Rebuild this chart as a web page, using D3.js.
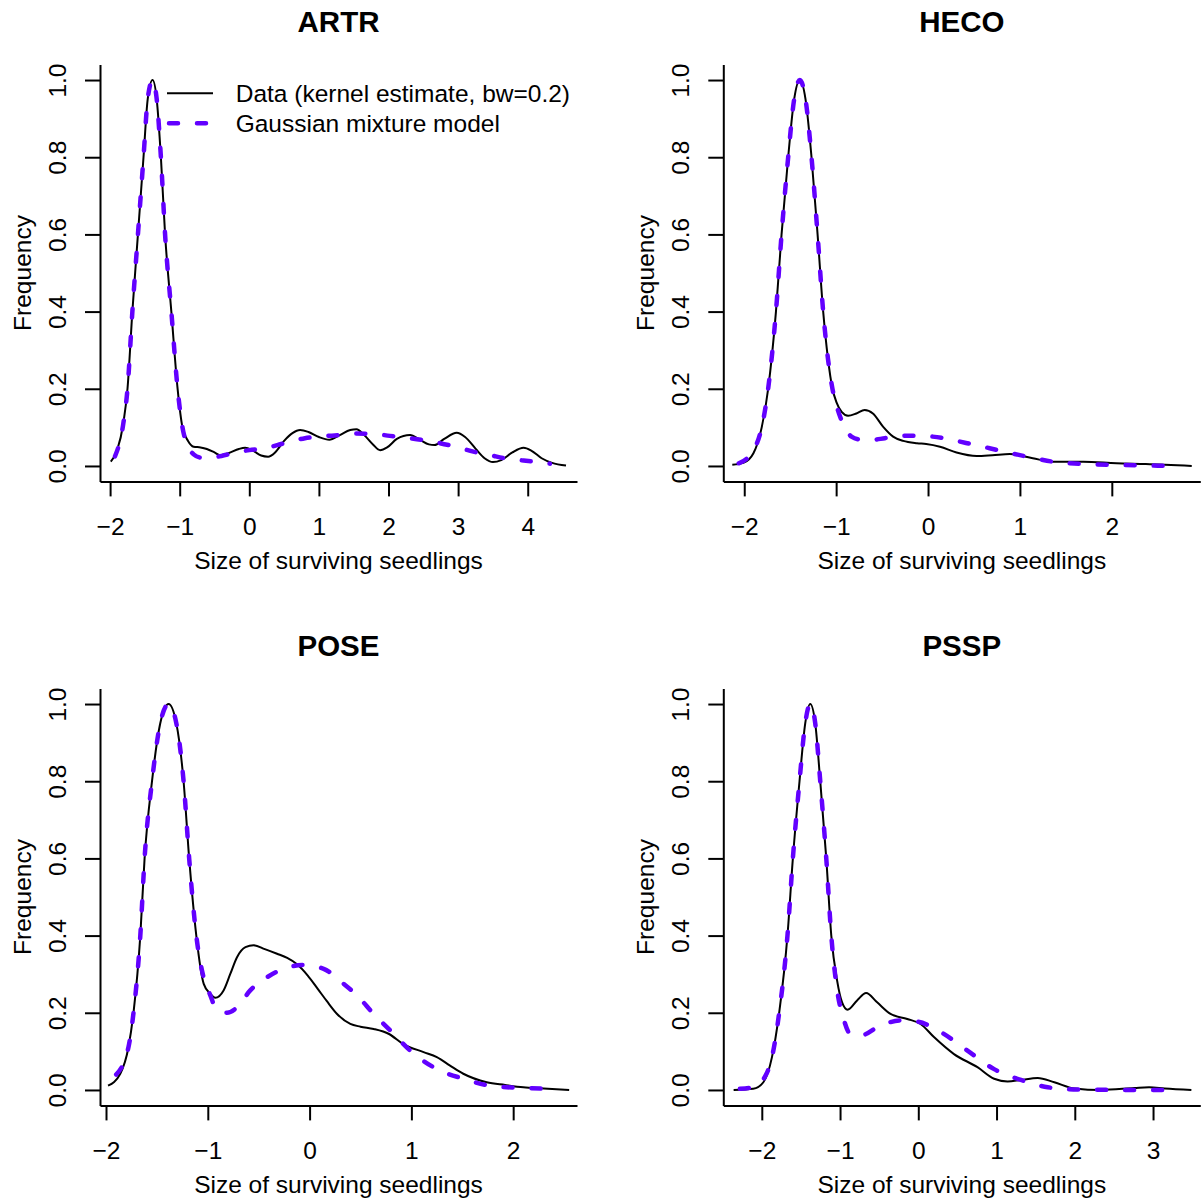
<!DOCTYPE html>
<html>
<head>
<meta charset="utf-8">
<script src="https://cdn.jsdelivr.net/npm/d3@7"></script>
<style>
  body { margin: 0; background: #fff; }
  text { font-family: "Liberation Sans", Arial, Helvetica, sans-serif; }
</style>
</head>
<body>
<script>
// ---- data ----
const panelNames = ["ARTR", "HECO", "POSE", "PSSP"];

const artrKdeX = [-1.99,-1.90,-1.81,-1.75,-1.68,-1.60,-1.52,-1.46,-1.39,-1.33,-1.27,-1.21,-1.12,-1.03,-0.96,-0.88,-0.80,-0.70,-0.61,-0.50,-0.42,-0.30,-0.15,-0.06,0.05,0.17,0.27,0.37,0.50,0.62,0.73,0.85,1.00,1.15,1.30,1.45,1.54,1.65,1.78,1.88,1.98,2.12,2.31,2.45,2.58,2.66,2.80,2.98,3.10,3.25,3.38,3.50,3.62,3.78,3.94,4.05,4.20,4.35,4.55];
const artrKdeY = [0.011,0.04,0.11,0.20,0.40,0.60,0.80,0.95,1.00,0.95,0.80,0.60,0.40,0.20,0.10,0.065,0.05,0.048,0.044,0.035,0.028,0.033,0.044,0.047,0.04,0.027,0.024,0.035,0.065,0.085,0.093,0.088,0.075,0.068,0.08,0.093,0.095,0.08,0.055,0.041,0.048,0.07,0.08,0.068,0.056,0.054,0.07,0.086,0.075,0.045,0.02,0.01,0.015,0.035,0.047,0.04,0.02,0.008,0.001];
const artrGmmX = [-1.93,-1.81,-1.75,-1.68,-1.60,-1.52,-1.46,-1.39,-1.33,-1.27,-1.21,-1.12,-1.03,-0.96,-0.88,-0.80,-0.70,-0.55,-0.40,-0.20,0.00,0.20,0.40,0.60,0.80,1.06,1.30,1.54,1.78,2.02,2.26,2.50,2.74,2.98,3.22,3.46,3.70,3.94,4.10,4.32];
const artrGmmY = [0.025,0.11,0.20,0.40,0.60,0.80,0.95,1.00,0.95,0.80,0.60,0.40,0.20,0.10,0.05,0.03,0.022,0.022,0.026,0.035,0.041,0.045,0.054,0.064,0.072,0.077,0.080,0.084,0.083,0.078,0.073,0.067,0.059,0.049,0.037,0.028,0.019,0.014,0.011,0.006];

const hecoKdeX = [-2.13,-2.01,-1.90,-1.81,-1.74,-1.655,-1.594,-1.522,-1.457,-1.395,-1.333,-1.268,-1.202,-1.141,-1.09,-1.04,-0.996,-0.94,-0.87,-0.78,-0.69,-0.60,-0.49,-0.38,-0.27,-0.12,-0.02,0.13,0.31,0.53,0.70,0.89,1.14,1.36,1.69,2.05,2.37,2.87];
const hecoKdeY = [0.003,0.008,0.033,0.10,0.20,0.40,0.60,0.80,0.95,1.00,0.95,0.80,0.60,0.40,0.28,0.20,0.165,0.14,0.13,0.136,0.145,0.136,0.102,0.076,0.065,0.059,0.057,0.05,0.035,0.026,0.028,0.031,0.02,0.011,0.011,0.007,0.005,0.0];
const hecoGmmX = [-2.06,-1.95,-1.81,-1.74,-1.655,-1.594,-1.522,-1.457,-1.395,-1.333,-1.268,-1.202,-1.141,-1.09,-1.04,-1.0,-0.905,-0.833,-0.73,-0.634,-0.47,-0.31,-0.12,0.05,0.20,0.35,0.50,0.67,0.83,1.0,1.18,1.36,1.69,2.05,2.66];
const hecoGmmY = [0.007,0.025,0.10,0.20,0.40,0.60,0.80,0.95,1.00,0.95,0.80,0.60,0.40,0.28,0.20,0.16,0.10,0.076,0.068,0.067,0.072,0.078,0.078,0.076,0.071,0.063,0.055,0.046,0.037,0.028,0.019,0.011,0.005,0.003,0.0];

const poseKdeX = [-1.98,-1.86,-1.78,-1.73,-1.663,-1.621,-1.548,-1.467,-1.385,-1.309,-1.238,-1.183,-1.113,-1.04,-0.975,-0.926,-0.845,-0.78,-0.713,-0.63,-0.55,-0.44,-0.32,-0.22,-0.12,-0.02,0.08,0.17,0.27,0.40,0.50,0.63,0.78,0.92,1.12,1.25,1.38,1.51,1.74,1.92,2.10,2.30,2.55];
const poseKdeY = [0.011,0.042,0.11,0.20,0.40,0.60,0.80,0.95,1.00,0.95,0.80,0.60,0.40,0.275,0.249,0.239,0.258,0.30,0.344,0.37,0.375,0.365,0.353,0.342,0.325,0.297,0.262,0.23,0.197,0.171,0.164,0.158,0.145,0.119,0.098,0.085,0.063,0.042,0.02,0.013,0.007,0.004,0.0];
const poseGmmX = [-1.90,-1.78,-1.73,-1.663,-1.621,-1.548,-1.467,-1.385,-1.309,-1.238,-1.183,-1.113,-1.04,-0.975,-0.93,-0.877,-0.811,-0.713,-0.583,-0.418,-0.255,-0.059,0.138,0.334,0.466,0.629,0.793,0.989,1.251,1.513,1.775,2.10,2.43];
const poseGmmY = [0.04,0.11,0.20,0.40,0.60,0.80,0.95,1.00,0.95,0.80,0.60,0.40,0.29,0.245,0.215,0.203,0.20,0.214,0.258,0.292,0.314,0.324,0.314,0.275,0.245,0.197,0.154,0.102,0.054,0.029,0.011,0.005,0.003];

const psspKdeX = [-2.36,-2.11,-1.98,-1.87,-1.778,-1.672,-1.603,-1.518,-1.445,-1.381,-1.317,-1.253,-1.176,-1.112,-1.038,-0.974,-0.903,-0.782,-0.667,-0.526,-0.355,-0.141,0.03,0.20,0.456,0.756,0.969,1.141,1.312,1.526,1.738,1.995,2.337,2.76,2.95,3.15,3.49];
const psspKdeY = [0.0,0.003,0.02,0.085,0.20,0.40,0.60,0.80,0.95,1.00,0.95,0.80,0.60,0.40,0.284,0.227,0.208,0.232,0.251,0.227,0.197,0.184,0.171,0.137,0.093,0.059,0.029,0.022,0.026,0.031,0.02,0.004,0.0,0.005,0.007,0.004,0.0];
const psspGmmX = [-2.28,-2.11,-1.94,-1.87,-1.778,-1.672,-1.603,-1.518,-1.445,-1.381,-1.317,-1.253,-1.176,-1.112,-1.038,-0.954,-0.868,-0.74,-0.483,-0.227,-0.013,0.286,0.628,0.969,1.312,1.654,2.04,2.76,3.235];
const psspGmmY = [0.003,0.007,0.042,0.085,0.20,0.40,0.60,0.80,0.95,1.00,0.95,0.80,0.60,0.40,0.26,0.184,0.145,0.141,0.167,0.18,0.177,0.15,0.102,0.054,0.026,0.007,0.001,0.0,0.0];

// axis limits and ticks
const artrXlim = [-2.145, 4.708], artrXticks = [-2, -1, 0, 1, 2, 3, 4];
const hecoXlim = [-2.228, 2.963], hecoXticks = [-2, -1, 0, 1, 2];
const poseXlim = [-2.059, 2.627], poseXticks = [-2, -1, 0, 1, 2];
const psspXlim = [-2.492, 3.604], psspXticks = [-2, -1, 0, 1, 2, 3];
const yTicks = [0, 0.2, 0.4, 0.6, 0.8, 1.0];
const yLim = [-0.04, 1.04];

const xLabel = "Size of surviving seedlings";
const yLabel = "Frequency";
const legendLabels = ["Data (kernel estimate, bw=0.2)", "Gaussian mixture model"];

// ---- layout ----
const width = 1201, height = 1204;
const left0 = 100, top0 = 64.6, plotW = 477, plotH = 416.8;
const colStep = 623.3, rowStep = 624;
const fontSize = 24.5, titleSize = 29.5;
const gmmColor = "#6200ff";

const panels = [
  { name: panelNames[0], xlim: artrXlim, xticks: artrXticks, kde: d3.zip(artrKdeX, artrKdeY), gmm: d3.zip(artrGmmX, artrGmmY) },
  { name: panelNames[1], xlim: hecoXlim, xticks: hecoXticks, kde: d3.zip(hecoKdeX, hecoKdeY), gmm: d3.zip(hecoGmmX, hecoGmmY) },
  { name: panelNames[2], xlim: poseXlim, xticks: poseXticks, kde: d3.zip(poseKdeX, poseKdeY), gmm: d3.zip(poseGmmX, poseGmmY) },
  { name: panelNames[3], xlim: psspXlim, xticks: psspXticks, kde: d3.zip(psspKdeX, psspKdeY), gmm: d3.zip(psspGmmX, psspGmmY) }
];

const svg = d3.select("body").append("svg")
  .attr("width", width).attr("height", height)
  .attr("xmlns", "http://www.w3.org/2000/svg");

panels.forEach((p, i) => {
  const ox = (i % 2) * colStep, oy = Math.floor(i / 2) * rowStep;
  const g = svg.append("g").attr("transform", `translate(${ox},${oy})`);

  const x = d3.scaleLinear().domain(p.xlim).range([left0, left0 + plotW]);
  const y = d3.scaleLinear().domain(yLim).range([top0 + plotH, top0]);

  const line = d3.line()
    .x((d) => x(d[0]))
    .y((d) => y(d[1]))
    .curve(d3.curveMonotoneX);

  // x axis (the domain line doubles as the bottom of the L box)
  const xa = g.append("g")
    .attr("transform", `translate(0,${top0 + plotH})`)
    .call(d3.axisBottom(x).tickValues(p.xticks).tickFormat(d3.format("d")).tickSize(15).tickSizeOuter(0))
    .attr("font-size", null).attr("font-family", null);
  xa.selectAll("path, line").attr("stroke", "#000").attr("stroke-width", 2);
  xa.selectAll("text").attr("y", 53.6).attr("dy", 0)
    .attr("fill", "#000").style("font-size", fontSize + "px");

  const ya = g.append("g")
    .attr("transform", `translate(${left0},0)`)
    .call(d3.axisLeft(y).tickValues(yTicks).tickFormat(d3.format(".1f")).tickSize(15).tickSizeOuter(0))
    .attr("font-size", null).attr("font-family", null);
  ya.selectAll("path, line").attr("stroke", "#000").attr("stroke-width", 2);
  ya.selectAll("text").attr("x", 0).attr("dy", 0)
    .attr("text-anchor", "middle")
    .attr("transform", "translate(-34,0) rotate(-90)")
    .attr("fill", "#000").style("font-size", fontSize + "px");

  // curves
  g.append("path")
    .attr("d", line(p.kde))
    .attr("fill", "none")
    .attr("stroke", "#000")
    .attr("stroke-width", 2);
  g.append("path")
    .attr("d", line(p.gmm))
    .attr("fill", "none")
    .attr("stroke", gmmColor)
    .attr("stroke-width", 4.5)
    .attr("stroke-linecap", "round")
    .attr("stroke-dasharray", "9,19");

  // titles
  g.append("text")
    .attr("x", left0 + plotW / 2).attr("y", 31.5)
    .attr("text-anchor", "middle")
    .style("font-size", titleSize + "px").style("font-weight", "bold")
    .text(p.name);
  g.append("text")
    .attr("x", left0 + plotW / 2).attr("y", 569)
    .attr("text-anchor", "middle")
    .style("font-size", fontSize + "px")
    .text(xLabel);
  g.append("text")
    .attr("transform", `translate(31,${top0 + plotH / 2}) rotate(-90)`)
    .attr("text-anchor", "middle")
    .style("font-size", fontSize + "px")
    .text(yLabel);

  if (i === 0) {
    const lg = g.append("g");
    const rows = [93.3, 123.3];
    lg.append("line")
      .attr("x1", 167).attr("x2", 213).attr("y1", rows[0]).attr("y2", rows[0])
      .attr("stroke", "#000").attr("stroke-width", 2);
    lg.append("line")
      .attr("x1", 169).attr("x2", 213).attr("y1", rows[1]).attr("y2", rows[1])
      .attr("stroke", gmmColor).attr("stroke-width", 4.5)
      .attr("stroke-linecap", "round").attr("stroke-dasharray", "9,19");
    legendLabels.forEach((t, k) => {
      lg.append("text")
        .attr("x", 235.7).attr("y", rows[k]).attr("dy", "0.35em")
        .style("font-size", fontSize + "px")
        .text(t);
    });
  }
});
</script>
</body>
</html>
